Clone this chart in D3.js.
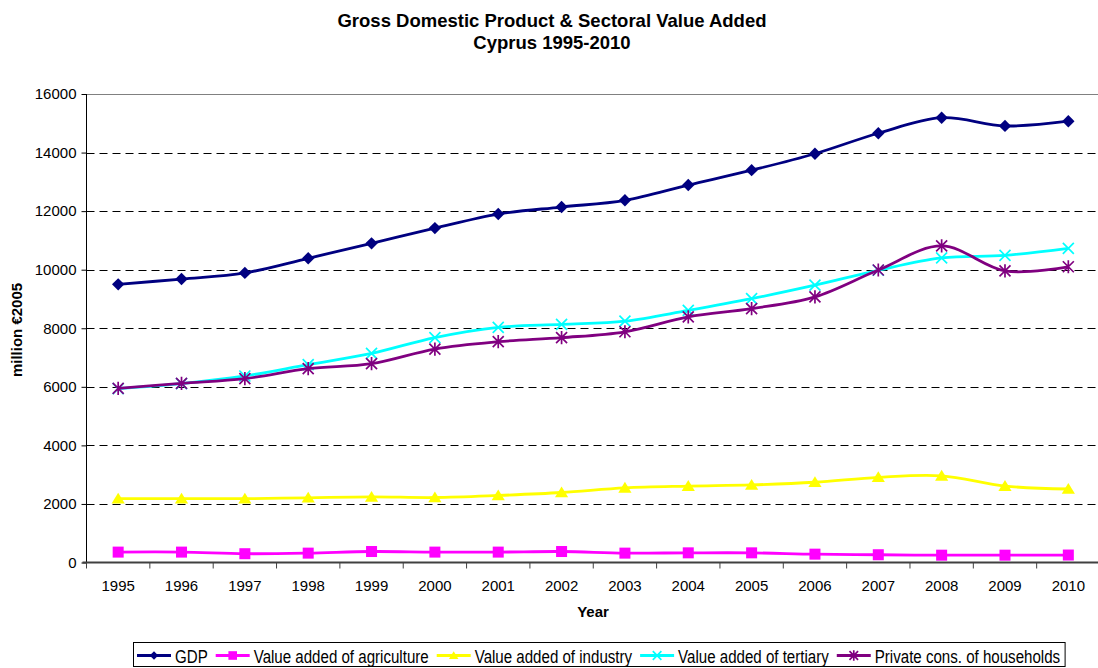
<!DOCTYPE html>
<html>
<head>
<meta charset="utf-8">
<script src="https://cdn.jsdelivr.net/npm/d3@7"></script>
<style>
  html, body { margin: 0; padding: 0; background: #fff; }
  svg { display: block; font-family: "Liberation Sans", Arial, sans-serif; }
</style>
</head>
<body>
<svg id="chart" width="1098" height="668"></svg>
<script>
// Cyprus GDP and sectoral value added, million euro (2005 prices)
const years = ["1995","1996","1997","1998","1999","2000","2001","2002","2003","2004","2005","2006","2007","2008","2009","2010"];
const gdp        = [9500, 9680, 9890, 10390, 10900, 11420, 11900, 12140, 12370, 12890, 13400, 13960, 14660, 15190, 14910, 15070];
const agriculture= [355, 355, 300, 320, 375, 355, 355, 375, 320, 330, 330, 285, 265, 250, 250, 255];
const industry   = [2180, 2180, 2180, 2210, 2240, 2220, 2290, 2390, 2550, 2610, 2650, 2740, 2910, 2960, 2610, 2510];
const tertiary   = [5940, 6110, 6370, 6760, 7140, 7680, 8030, 8130, 8240, 8610, 9010, 9470, 9980, 10400, 10490, 10730];
const households = [5950, 6120, 6280, 6620, 6790, 7290, 7540, 7680, 7880, 8390, 8670, 9070, 9990, 10810, 9960, 10100];
const yTicks = [0, 2000, 4000, 6000, 8000, 10000, 12000, 14000, 16000];

const series = [
  { name: "GDP", values: gdp, color: "#000080", marker: "diamond" },
  { name: "Value added of agriculture", values: agriculture, color: "#FF00FF", marker: "square" },
  { name: "Value added of industry", values: industry, color: "#FFFF00", marker: "triangle" },
  { name: "Value added of tertiary", values: tertiary, color: "#00FFFF", marker: "cross" },
  { name: "Private cons. of households", values: households, color: "#800080", marker: "star" }
];

const svg = d3.select("#chart");
const plot = { left: 86.5, right: 1100, top: 94, bottom: 562.5 };

const x = d3.scaleBand().domain(years).range([plot.left, plot.right]);
const y = d3.scaleLinear().domain([0, 16000]).range([plot.bottom, plot.top]);
const cx = d => x(d) + x.bandwidth() / 2;

// Titles
svg.append("text").attr("x", 552).attr("y", 27).attr("text-anchor", "middle")
  .attr("font-weight", "bold").attr("font-size", 18.5).text("Gross Domestic Product & Sectoral Value Added");
svg.append("text").attr("x", 552).attr("y", 49).attr("text-anchor", "middle")
  .attr("font-weight", "bold").attr("font-size", 18.5).text("Cyprus 1995-2010");

// Horizontal gridlines
svg.append("g").selectAll("line").data(yTicks.filter(t => t > 0)).join("line")
  .attr("x1", plot.left).attr("x2", 1098)
  .attr("y1", d => Math.round(y(d)) + 0.5).attr("y2", d => Math.round(y(d)) + 0.5)
  .attr("stroke", d => d === 16000 ? "#808080" : "#000")
  .attr("stroke-width", 1)
  .attr("stroke-dasharray", d => d === 16000 ? null : "8,5");

// Y axis
const yAxis = svg.append("g").attr("transform", `translate(${plot.left},0)`)
  .call(d3.axisLeft(y).tickValues(yTicks).tickSize(5).tickPadding(5).tickFormat(d3.format("d")));
yAxis.select(".domain").attr("stroke", "#000").attr("d", `M0,${plot.top}V${plot.bottom}`);
yAxis.selectAll(".tick line").attr("stroke", "#000");
yAxis.selectAll(".tick text").attr("font-size", 15).attr("fill", "#000")
  .attr("font-family", "'Liberation Sans', Arial, sans-serif");

// X axis with ticks at category boundaries
const xAxisG = svg.append("g").attr("transform", `translate(0,${plot.bottom})`);
xAxisG.append("line").attr("x1", plot.left - 4).attr("x2", 1098).attr("y1", 0).attr("y2", 0)
  .attr("stroke", "#404040").attr("stroke-width", 2);
xAxisG.selectAll("line.tk").data(years).join("line").attr("class", "tk")
  .attr("x1", d => x(d)).attr("x2", d => x(d)).attr("y1", 0).attr("y2", 6)
  .attr("stroke", "#404040").attr("stroke-width", 1);
xAxisG.selectAll("text").data(years).join("text")
  .attr("x", d => cx(d)).attr("y", 28).attr("text-anchor", "middle")
  .attr("font-size", 15).attr("fill", "#000").text(d => d);

// Axis titles
svg.append("text").attr("x", 593).attr("y", 617).attr("text-anchor", "middle")
  .attr("font-weight", "bold").attr("font-size", 15).text("Year");
svg.append("text").attr("transform", "translate(22,330) rotate(-90)").attr("text-anchor", "middle")
  .attr("font-weight", "bold").attr("font-size", 15).text("million \u20AC2005");

// Marker shapes
function drawMarker(g, type, px, py, color, s) {
  if (type === "diamond") {
    g.append("path").attr("d", `M${px},${py - s}L${px + s},${py}L${px},${py + s}L${px - s},${py}Z`).attr("fill", color);
  } else if (type === "square") {
    g.append("rect").attr("x", px - s).attr("y", py - s).attr("width", 2 * s).attr("height", 2 * s).attr("fill", color);
  } else if (type === "triangle") {
    g.append("path").attr("d", `M${px},${py - s}L${px + s * 1.1},${py + s * 0.8}L${px - s * 1.1},${py + s * 0.8}Z`).attr("fill", color);
  } else if (type === "cross") {
    g.append("path").attr("d", `M${px - s},${py - s}L${px + s},${py + s}M${px - s},${py + s}L${px + s},${py - s}`)
      .attr("stroke", color).attr("stroke-width", 1.7).attr("fill", "none");
  } else if (type === "star") {
    g.append("path").attr("d", `M${px - s},${py - s}L${px + s},${py + s}M${px - s},${py + s}L${px + s},${py - s}M${px},${py - s * 1.2}L${px},${py + s * 1.2}`)
      .attr("stroke", color).attr("stroke-width", 1.7).attr("fill", "none");
  }
}

const markerSize = { diamond: 6.2, square: 5.5, triangle: 6, cross: 5.5, star: 5.5 };

// Smoothed series lines with markers
const line = d3.line().x(d => cx(d.year)).y(d => y(d.value)).curve(d3.curveCardinal.tension(0));
series.forEach(s => {
  const pts = years.map((yr, i) => ({ year: yr, value: s.values[i] }));
  const g = svg.append("g");
  g.append("path").datum(pts).attr("d", line)
    .attr("fill", "none").attr("stroke", s.color).attr("stroke-width", 2.8);
  pts.forEach(p => drawMarker(g, s.marker, cx(p.year), y(p.value), s.color, markerSize[s.marker]));
});

// Legend
const legend = svg.append("g");
const legendBox = legend.append("rect").attr("x", 133.5).attr("y", 642.5).attr("height", 24)
  .attr("fill", "#fff").attr("stroke", "#000").attr("stroke-width", 1);
let lx = 137;
series.forEach(s => {
  const ly = 655.5;
  legend.append("line").attr("x1", lx).attr("x2", lx + 34).attr("y1", ly).attr("y2", ly)
    .attr("stroke", s.color).attr("stroke-width", 2.8);
  drawMarker(legend, s.marker, lx + 17, ly, s.color, 4.3);
  const t = legend.append("text").attr("x", lx + 38).attr("y", 662.5).attr("font-size", 17.5).attr("fill", "#000").text(s.name);
  const w = t.node().getComputedTextLength() * 0.862;
  t.attr("textLength", w).attr("lengthAdjust", "spacingAndGlyphs");
  lx = lx + 38 + w + 8;
});
legendBox.attr("width", lx - 133.5 - 3);
</script>
</body>
</html>
